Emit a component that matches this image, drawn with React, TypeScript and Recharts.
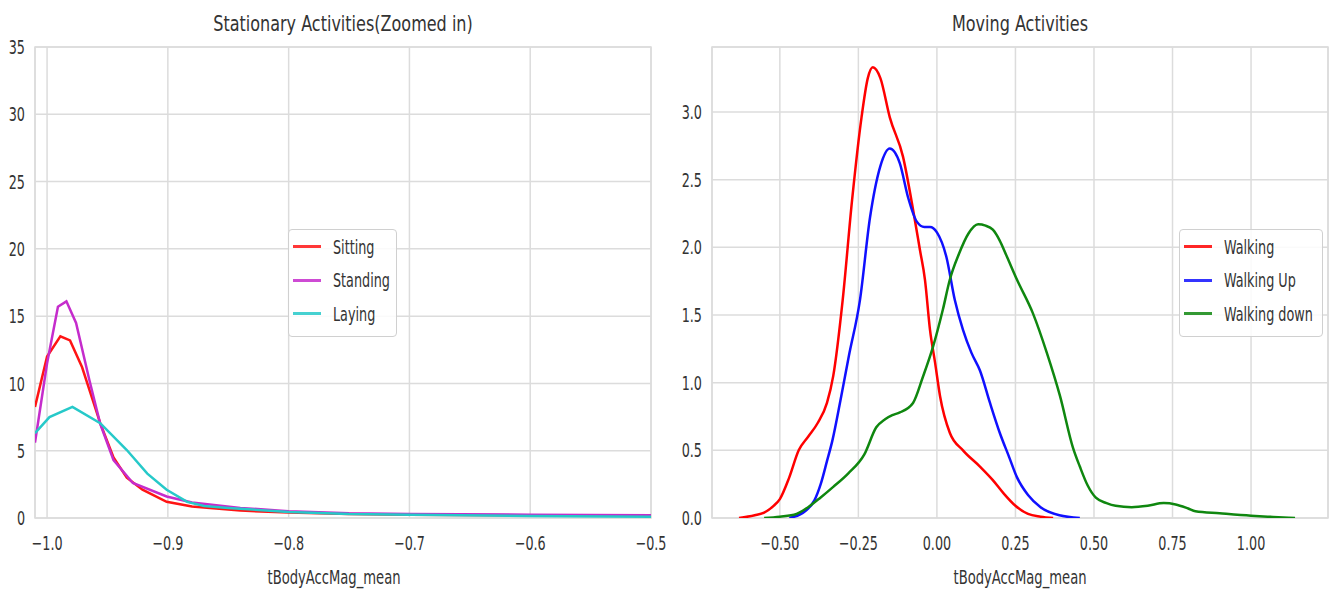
import React from "react";
import {
  LineChart,
  Line,
  XAxis,
  YAxis,
  CartesianGrid,
  Legend,
  ReferenceArea,
} from "recharts";

// Stationary activities (zoomed in): [x, density]
const sittingPts: [number, number][] = [
  [-1.01, 8.25], [-1.0, 12.0], [-0.989, 13.5], [-0.981, 13.2], [-0.971, 11.2],
  [-0.956, 7.05], [-0.945, 4.5], [-0.934, 3.0], [-0.921, 2.1], [-0.901, 1.2],
  [-0.88, 0.85], [-0.86, 0.7], [-0.84, 0.55], [-0.8, 0.4], [-0.75, 0.3],
  [-0.7, 0.25], [-0.6, 0.2], [-0.5, 0.2],
];
const standingPts: [number, number][] = [
  [-1.01, 5.6], [-1.0, 11.5], [-0.991, 15.7], [-0.984, 16.1], [-0.976, 14.5],
  [-0.965, 10.25], [-0.956, 7.0], [-0.945, 4.3], [-0.929, 2.6], [-0.901, 1.6],
  [-0.88, 1.15], [-0.86, 0.95], [-0.84, 0.75], [-0.8, 0.5], [-0.75, 0.35],
  [-0.7, 0.3], [-0.6, 0.25], [-0.5, 0.2],
];
const layingPts: [number, number][] = [
  [-1.01, 6.3], [-0.998, 7.5], [-0.979, 8.25], [-0.956, 7.05], [-0.934, 5.05],
  [-0.917, 3.3], [-0.901, 2.1], [-0.884, 1.2], [-0.87, 0.9], [-0.85, 0.75],
  [-0.8, 0.45], [-0.75, 0.3], [-0.7, 0.25], [-0.6, 0.15], [-0.5, 0.1],
];

// Moving activities: [x, density]
const walkingPts: [number, number][] = [
  [-0.63, 0], [-0.58, 0.02], [-0.55, 0.04], [-0.52, 0.09], [-0.5, 0.14],
  [-0.47, 0.3], [-0.44, 0.5], [-0.41, 0.6], [-0.38, 0.7], [-0.35, 0.85],
  [-0.33, 1.05], [-0.3, 1.61], [-0.27, 2.35], [-0.24, 2.96], [-0.22, 3.25],
  [-0.204, 3.33], [-0.18, 3.25], [-0.15, 2.96], [-0.108, 2.67], [-0.076, 2.28],
  [-0.054, 1.98], [-0.038, 1.76], [-0.022, 1.39], [-0.006, 1.15], [0.01, 0.9],
  [0.041, 0.63], [0.083, 0.5], [0.137, 0.38], [0.178, 0.28], [0.213, 0.18],
  [0.25, 0.09], [0.29, 0.03], [0.33, 0.01], [0.37, 0],
];
const walkingUpPts: [number, number][] = [
  [-0.47, 0], [-0.42, 0.05], [-0.39, 0.13], [-0.37, 0.25], [-0.35, 0.42],
  [-0.333, 0.57], [-0.307, 0.87], [-0.28, 1.2], [-0.245, 1.61], [-0.213, 2.22],
  [-0.18, 2.6], [-0.15, 2.73], [-0.118, 2.62], [-0.092, 2.37], [-0.064, 2.19],
  [-0.04, 2.15], [-0.022, 2.15], [0.0, 2.11], [0.03, 1.93], [0.057, 1.61],
  [0.083, 1.39], [0.11, 1.22], [0.137, 1.09], [0.169, 0.85], [0.2, 0.63],
  [0.23, 0.45], [0.255, 0.3], [0.29, 0.17], [0.33, 0.08], [0.39, 0.02],
  [0.455, 0],
];
const walkingDownPts: [number, number][] = [
  [-0.55, 0], [-0.5, 0.01], [-0.447, 0.03], [-0.41, 0.08], [-0.371, 0.15],
  [-0.33, 0.23], [-0.282, 0.33], [-0.231, 0.47], [-0.193, 0.67], [-0.165, 0.73],
  [-0.142, 0.76], [-0.118, 0.78], [-0.076, 0.85], [-0.045, 1.04], [-0.013, 1.26],
  [0.019, 1.54], [0.041, 1.76], [0.07, 1.95], [0.1, 2.1], [0.131, 2.17],
  [0.155, 2.16], [0.178, 2.13], [0.2, 2.05], [0.223, 1.93], [0.255, 1.76],
  [0.306, 1.51], [0.35, 1.22], [0.392, 0.9], [0.433, 0.52], [0.455, 0.38],
  [0.48, 0.24], [0.506, 0.15], [0.54, 0.11], [0.569, 0.09], [0.62, 0.08],
  [0.671, 0.09], [0.722, 0.11], [0.76, 0.1], [0.8, 0.07], [0.823, 0.05],
  [0.9, 0.035], [1.0, 0.017], [1.07, 0.008], [1.14, 0],
];

const leftXTicks = [-1.0, -0.9, -0.8, -0.7, -0.6, -0.5];
const leftYTicks = [0, 5, 10, 15, 20, 25, 30, 35];
const rightXTicks = [-0.5, -0.25, 0, 0.25, 0.5, 0.75, 1.0];
const rightYTicks = [0, 0.5, 1.0, 1.5, 2.0, 2.5, 3.0];

const leftOrder = ["Sitting", "Standing", "Laying"];
const rightOrder = ["Walking", "Walking Up", "Walking down"];

const FONT = "'DejaVu Sans Condensed', 'DejaVu Sans', sans-serif";
const GRID = "#dcdcdc";
const TEXT = "#333";
const SQUEEZE = 0.71;

const toRows = (pts: [number, number][]) => pts.map(([x, y]) => ({ x, y }));
const minus = (s: string) => s.replace("-", "\u2212");

// narrow tick text, the reference font is very condensed
function Tick(props: any) {
  const { x, y, payload, textAnchor, fmt, vertical } = props;
  return (
    <g transform={`translate(${x},${y})`}>
      <text
        transform={`scale(${SQUEEZE},1)`}
        textAnchor={textAnchor}
        dy={vertical ? "0.355em" : "0.71em"}
        fontSize={20}
        fill={TEXT}
        fontFamily={FONT}
      >
        {fmt(payload.value)}
      </text>
    </g>
  );
}

function LegendBox(props: any) {
  const { payload = [], width, order } = props;
  const items = [...payload].sort(
    (a: any, b: any) => order.indexOf(a.value) - order.indexOf(b.value)
  );
  return (
    <div
      style={{
        width,
        boxSizing: "border-box",
        border: "1px solid #d0d0d0",
        borderRadius: 4,
        background: "rgba(255,255,255,0.85)",
        padding: "0 0 5px 4px",
        fontFamily: FONT,
        fontSize: 20,
        color: TEXT,
      }}
    >
      {items.map((p: any) => (
        <div key={p.value} style={{ display: "flex", alignItems: "center", height: 33.5, whiteSpace: "nowrap" }}>
          <span
            style={{
              display: "inline-block",
              width: 28,
              height: 3,
              background: p.color,
              opacity: 0.85,
              marginRight: 12,
              flex: "none",
            }}
          />
          <span style={{ display: "inline-block", transform: `scaleX(${SQUEEZE})`, transformOrigin: "left center" }}>
            {p.value}
          </span>
        </div>
      ))}
    </div>
  );
}

const label = (text: string, left: number, top: number, size: number, sx: number) => (
  <div
    style={{
      position: "absolute",
      left: left - 200,
      top,
      width: 400,
      textAlign: "center",
      fontFamily: FONT,
      fontSize: size,
      color: TEXT,
      lineHeight: 1,
      transform: `scaleX(${sx})`,
    }}
  >
    {text}
  </div>
);

export default function App() {
  return (
    <div
      style={{
        position: "absolute",
        left: 0,
        top: 0,
        width: 1335,
        height: 592,
        background: "#fff",
        overflow: "hidden",
      }}
    >
      {label("Stationary Activities(Zoomed in)", 343, 13, 22, 0.81)}
      {label("Moving Activities", 1020, 13, 22, 0.81)}
      {label("tBodyAccMag_mean", 334, 567, 20, 0.73)}
      {label("tBodyAccMag_mean", 1020, 567, 20, 0.73)}

      <div style={{ position: "absolute", left: 0, top: 0 }}>
        <LineChart width={680} height={592} margin={{ top: 47, right: 29, bottom: 44, left: 0 }}>
          <CartesianGrid stroke={GRID} strokeWidth={1.5} />
          <ReferenceArea x1={-1.01} x2={-0.5} y1={0} y2={35} fill="none" stroke={GRID} strokeWidth={1.5} />
          <XAxis
            type="number"
            dataKey="x"
            domain={[-1.01, -0.5]}
            ticks={leftXTicks}
            allowDataOverflow
            height={30}
            axisLine={false}
            tickLine={false}
            tickSize={0}
            tickMargin={18}
            tick={<Tick fmt={(v: number) => minus(v.toFixed(1))} />}
          />
          <YAxis
            type="number"
            domain={[0, 35]}
            ticks={leftYTicks}
            allowDataOverflow
            width={35}
            axisLine={false}
            tickLine={false}
            tickSize={0}
            tickMargin={10}
            tick={<Tick vertical fmt={(v: number) => String(v)} />}
          />
          <Legend
            layout="vertical"
            align="center"
            verticalAlign="middle"
            content={<LegendBox width={109} order={leftOrder} />}
            wrapperStyle={{ left: 288, top: 229, width: 109 }}
          />
          <Line data={toRows(sittingPts)} dataKey="y" name="Sitting" type="linear" stroke="#ff1414" strokeWidth={2.5} dot={false} isAnimationActive={false} />
          <Line data={toRows(standingPts)} dataKey="y" name="Standing" type="linear" stroke="#c52ccc" strokeWidth={2.5} dot={false} isAnimationActive={false} />
          <Line data={toRows(layingPts)} dataKey="y" name="Laying" type="linear" stroke="#26c9c9" strokeWidth={2.5} dot={false} isAnimationActive={false} />
        </LineChart>
      </div>

      <div style={{ position: "absolute", left: 660, top: 0 }}>
        <LineChart width={675} height={592} margin={{ top: 47, right: 7, bottom: 44, left: 0 }}>
          <CartesianGrid stroke={GRID} strokeWidth={1.5} />
          <ReferenceArea x1={-0.716} x2={1.245} y1={0} y2={3.48} fill="none" stroke={GRID} strokeWidth={1.5} />
          <XAxis
            type="number"
            dataKey="x"
            domain={[-0.716, 1.245]}
            ticks={rightXTicks}
            allowDataOverflow
            height={30}
            axisLine={false}
            tickLine={false}
            tickSize={0}
            tickMargin={18}
            tick={<Tick fmt={(v: number) => minus(v.toFixed(2))} />}
          />
          <YAxis
            type="number"
            domain={[0, 3.48]}
            ticks={rightYTicks}
            allowDataOverflow
            width={52}
            axisLine={false}
            tickLine={false}
            tickSize={0}
            tickMargin={10}
            tick={<Tick vertical fmt={(v: number) => v.toFixed(1)} />}
          />
          <Legend
            layout="vertical"
            align="center"
            verticalAlign="middle"
            content={<LegendBox width={144} order={rightOrder} />}
            wrapperStyle={{ left: 519, top: 229, width: 144 }}
          />
          <Line data={toRows(walkingPts)} dataKey="y" name="Walking" type="monotone" stroke="#ff0000" strokeWidth={2.5} dot={false} isAnimationActive={false} />
          <Line data={toRows(walkingUpPts)} dataKey="y" name="Walking Up" type="monotone" stroke="#1010ff" strokeWidth={2.5} dot={false} isAnimationActive={false} />
          <Line data={toRows(walkingDownPts)} dataKey="y" name="Walking down" type="monotone" stroke="#0f870f" strokeWidth={2.5} dot={false} isAnimationActive={false} />
        </LineChart>
      </div>
    </div>
  );
}
